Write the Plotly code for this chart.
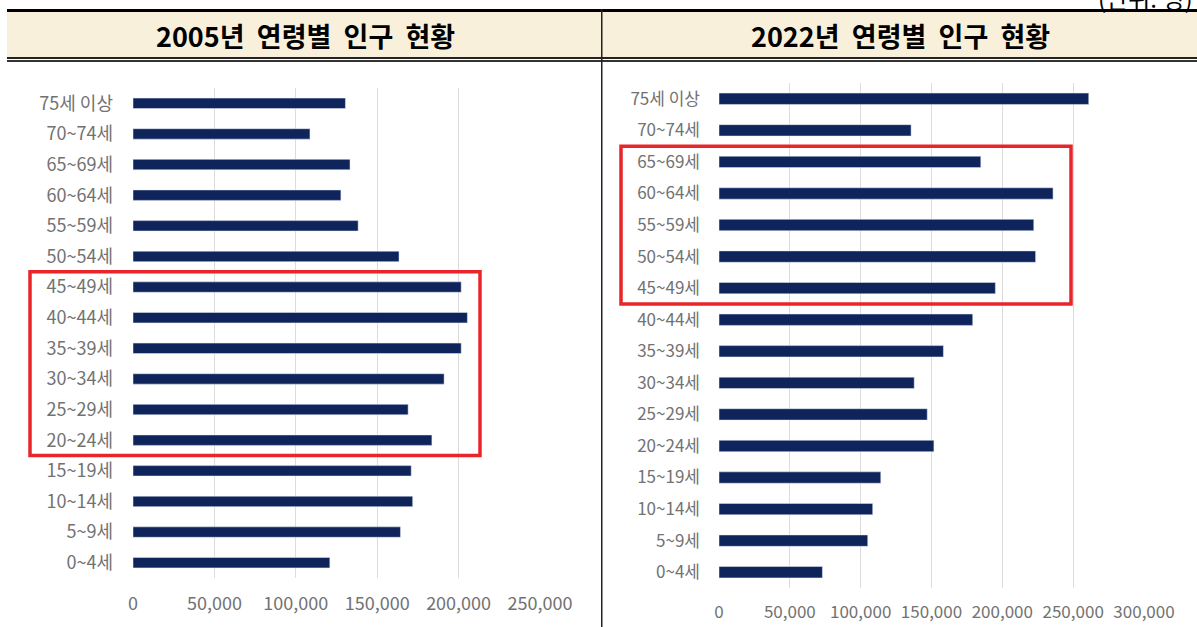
import plotly.graph_objects as go

# 연령 구간 (아래 -> 위)
ages = ["0~4세", "5~9세", "10~14세", "15~19세", "20~24세", "25~29세", "30~34세",
        "35~39세", "40~44세", "45~49세", "50~54세", "55~59세", "60~64세",
        "65~69세", "70~74세", "75세 이상"]

pop_2005 = [120900, 164300, 171800, 170900, 183600, 169000, 191100, 201600,
            205400, 201600, 163400, 138300, 127700, 133300, 108700, 130500]
pop_2022 = [73000, 105000, 108500, 114200, 151700, 147000, 137800, 158400,
            179100, 195100, 223500, 222200, 235800, 184800, 135600, 261000]

titles = ["2005년 연령별 인구 현황", "2022년 연령별 인구 현황"]
ticks_2005 = [0, 50000, 100000, 150000, 200000, 250000]
ticks_2022 = [0, 50000, 100000, 150000, 200000, 250000, 300000]

W, H = 1197, 627
BAR = "#10245c"
GRID = "#dcdcdc"
TXT = "#727272"
FONT = "Noto Sans CJK KR"


def px(x):
    return x / W


def py(y):
    return 1 - y / H


fig = go.Figure()
fig.add_trace(go.Bar(x=pop_2005, y=ages, orientation="h", marker_color=BAR,
                     width=0.34, xaxis="x", yaxis="y", showlegend=False))
fig.add_trace(go.Bar(x=pop_2022, y=ages, orientation="h", marker_color=BAR,
                     width=0.36, xaxis="x2", yaxis="y2", showlegend=False))

axis_common = dict(showgrid=True, gridcolor=GRID, gridwidth=1, zeroline=False,
                   showline=False, ticks="", tickformat=",", automargin=False)
ycommon = dict(showgrid=False, zeroline=False, showline=False, ticks="",
               type="category", categoryorder="array", categoryarray=ages,
               range=[-0.5, 15.5], automargin=False)

fig.update_layout(
    width=W, height=H, autosize=False,
    margin=dict(l=0, r=0, t=0, b=0, pad=0),
    paper_bgcolor="white", plot_bgcolor="white",
    xaxis=dict(axis_common, domain=[px(133), px(540)], range=[0, 250000],
               tickvals=ticks_2005, anchor="y", ticklabelstandoff=13,
               tickfont=dict(family=FONT, size=18, color=TXT)),
    yaxis=dict(ycommon, domain=[py(578), py(88)], anchor="x",
               ticklabelstandoff=19,
               tickfont=dict(family=FONT, size=18, color=TXT)),
    xaxis2=dict(axis_common, domain=[px(719), px(1144)], range=[0, 300000],
                tickvals=ticks_2022, anchor="y2", ticklabelstandoff=12,
                tickfont=dict(family=FONT, size=17, color=TXT)),
    yaxis2=dict(ycommon, domain=[py(588), py(83)], anchor="x2",
                ticklabelstandoff=18,
                tickfont=dict(family=FONT, size=17, color=TXT)),
)

shapes = [
    # 머리글 배경
    dict(type="rect", xref="paper", yref="paper", x0=px(7), x1=1,
         y0=py(57), y1=py(12), fillcolor="#f8f0da", line_width=0, layer="below"),
    # 위쪽 굵은 선
    dict(type="rect", xref="paper", yref="paper", x0=px(7), x1=1,
         y0=py(12), y1=py(9), fillcolor="black", line_width=0),
    # 아래 이중선
    dict(type="rect", xref="paper", yref="paper", x0=px(7), x1=1,
         y0=py(59), y1=py(57), fillcolor="#222222", line_width=0),
    dict(type="rect", xref="paper", yref="paper", x0=px(7), x1=1,
         y0=py(62), y1=py(60), fillcolor="#333333", line_width=0),
    # 가운데 세로선
    dict(type="rect", xref="paper", yref="paper", x0=px(601), x1=px(602.5),
         y0=0, y1=py(9), fillcolor="#222222", line_width=0),
    # 강조 박스
    dict(type="rect", xref="paper", yref="y", x0=px(30), x1=px(480),
         y0=3.5, y1=9.5, line=dict(color="#e8262a", width=3.5)),
    dict(type="rect", xref="paper", yref="y2", x0=px(621), x1=px(1071),
         y0=8.5, y1=13.5, line=dict(color="#e8262a", width=3.5)),
]
fig.update_layout(shapes=shapes)

title_font = dict(family=FONT, size=27, color="black", weight="bold")
annotations = [
    dict(text=titles[0].replace(" ", "\u00a0\u00a0"), x=px(305), y=py(36),
         xref="paper", yref="paper", xanchor="center", yanchor="middle",
         showarrow=False, font=title_font),
    dict(text=titles[1].replace(" ", "\u00a0\u00a0"), x=px(900), y=py(36),
         xref="paper", yref="paper", xanchor="center", yanchor="middle",
         showarrow=False, font=title_font),
    dict(text="(단위: 명)", x=px(1195), y=py(-3), xref="paper", yref="paper",
         xanchor="right", yanchor="middle", showarrow=False,
         font=dict(family=FONT, size=24, color="black")),
]
fig.update_layout(annotations=annotations)

fig.write_html("out.html",
               config={"displayModeBar": False, "responsive": False},
               post_script="document.body.style.margin='0';"
                           "document.body.style.overflow='hidden';")
